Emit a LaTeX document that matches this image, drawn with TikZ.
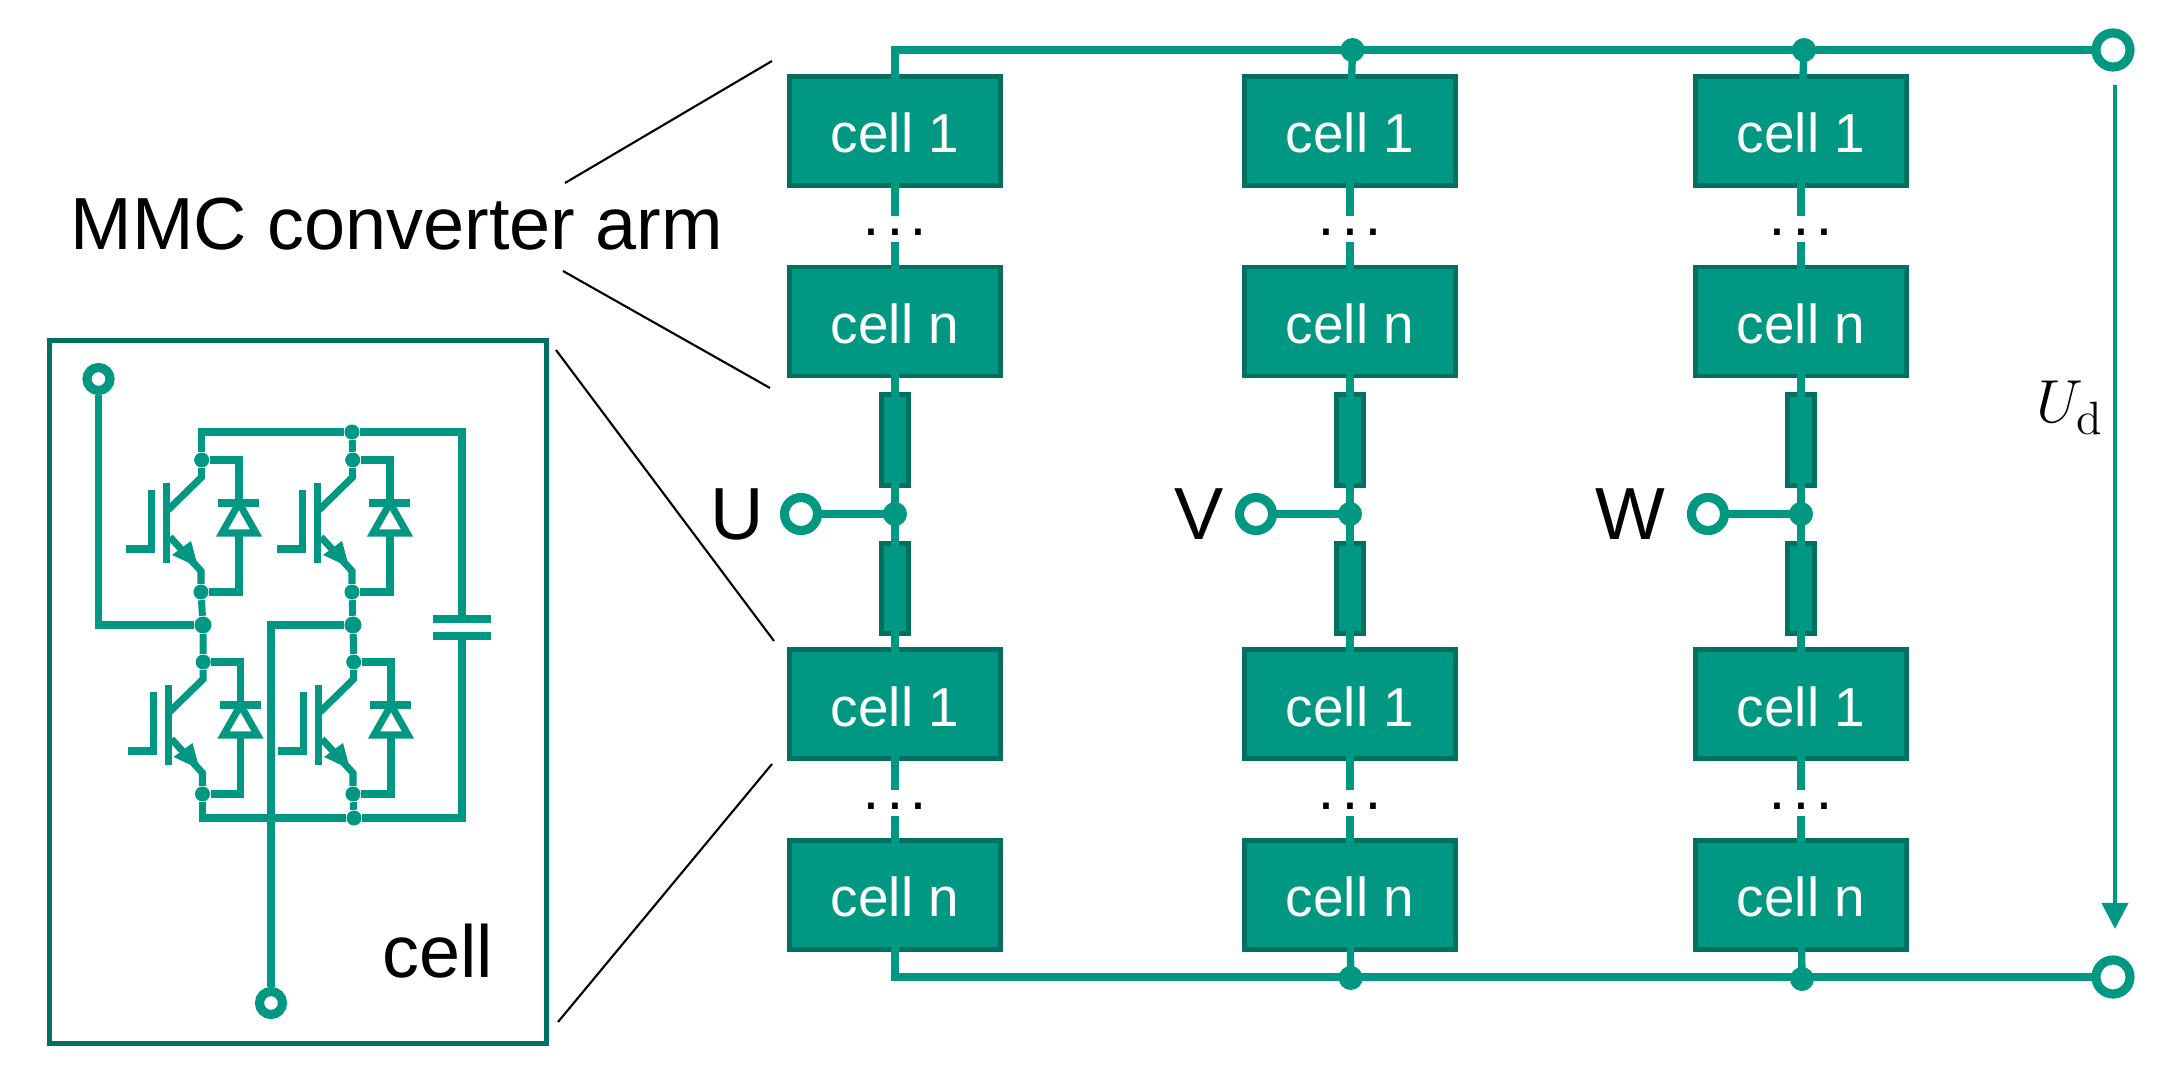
\documentclass[tikz,border=0pt]{standalone}
\usepackage{fontspec}
\setsansfont{Liberation Sans}
\usetikzlibrary{arrows.meta}
\definecolor{mmcgreen}{RGB}{0,152,130}
\definecolor{mmcdark}{RGB}{0,112,96}
\begin{document}
\begin{tikzpicture}[x=0.01cm, y=-0.01cm,
                    every node/.append style={font=\sffamily},
                    biglabel/.style={font=\sffamily\fontsize{21}{25}\selectfont},
                    cellbox/.style={rectangle, draw=mmcdark, fill=mmcgreen, line width=1.4pt, minimum width=2.1cm, minimum height=1.09cm, text height=0.44cm, text=white, font=\sffamily\fontsize{15.6}{19}\selectfont},
                    reactor/.style={rectangle, draw=mmcdark, fill=mmcgreen, line width=1.3pt, minimum width=0.265cm, minimum height=0.905cm},
                    armdots/.style={anchor=base, font=\sffamily\fontsize{17}{20}\selectfont},
                    bigdot/.style={circle, fill=mmcgreen, inner sep=0pt, minimum size=0.24cm},
                    smalldot/.style={circle, fill=mmcgreen, inner sep=0pt, minimum size=0.15cm},
                    terminal/.style={circle, draw=mmcgreen, fill=white, line width=2.6pt, inner sep=0pt, minimum size=0.34cm},
                    smallterminal/.style={terminal, minimum size=0.23cm},
                    wire/.style={draw=mmcgreen, line width=2.1pt, shorten >=-0.06cm, shorten <=-0.06cm},
                    cellwire/.style={draw=mmcgreen, line width=2pt},
                    pointer/.style={draw=black, line width=0.6pt}]
    \useasboundingbox (0,0) rectangle (2177,1070);

    % DC terminals and voltage arrow
    \node [terminal] (dc_top) at (2113,50) {};
    \node [terminal] (dc_bot) at (2113,977) {};
    \coordinate (ud_start) at (2115,85);
    \coordinate (ud_end) at (2115,929);
    \draw [draw=mmcgreen, line width=1.1pt, -{Triangle[length=7.4pt, width=7.4pt]}, mmcgreen] (ud_start) -- (ud_end);
    \node [anchor=base, font=\fontsize{19}{23}\selectfont] (ud_label) at (2070,423) {$U_{\mathrm{d}}$};

    % The three phase legs
    \foreach \leg/\xc/\xt/\xl/\phase in {a/895/801/737/U, b/1350/1256/1199/V, c/1801/1708/1630/W} {
        \node [cellbox] (\leg_p1) at (\xc,131) {cell 1};
        \node [cellbox] (\leg_pn) at (\xc,321.5) {cell n};
        \node [reactor] (\leg_rp) at (\xc,440) {};
        \node [bigdot] (\leg_ac) at (\xc,514) {};
        \node [reactor] (\leg_rn) at (\xc,588.5) {};
        \node [cellbox] (\leg_n1) at (\xc,704.3) {cell 1};
        \node [cellbox] (\leg_nn) at (\xc,895) {cell n};
        \node [terminal, minimum size=0.33cm] (\leg_t) at (\xt,514) {};
        \node [biglabel] (\leg_phase) at (\xl,514) {\phase};
        \node [armdots] (\leg_pdots) at (\xc,249) {·\kern1.1pt·\kern1.1pt·};
        \node [armdots] (\leg_ndots) at (\xc,823) {·\kern1.1pt·\kern1.1pt·};
        \coordinate (\leg_pa) at (\xc,210);
        \coordinate (\leg_pb) at (\xc,248);
        \coordinate (\leg_na) at (\xc,784);
        \coordinate (\leg_nb) at (\xc,822);
        % Wires along the leg
        \draw [wire] (\leg_p1) -- (\leg_pa);
        \draw [wire] (\leg_pb) -- (\leg_pn);
        \draw [wire] (\leg_pn) -- (\leg_rp);
        \draw [wire] (\leg_rp) -- (\leg_ac);
        \draw [wire] (\leg_ac) -- (\leg_rn);
        \draw [wire] (\leg_rn) -- (\leg_n1);
        \draw [wire] (\leg_n1) -- (\leg_na);
        \draw [wire] (\leg_nb) -- (\leg_nn);
        \draw [wire] (\leg_t) -- (\leg_ac);
    }

    % DC buses
    \node [bigdot] (bus_tb) at (1352.5,50) {};
    \node [bigdot] (bus_tc) at (1804,50) {};
    \node [bigdot] (bus_bb) at (1350.7,978) {};
    \node [bigdot] (bus_bc) at (1802,979) {};
    \draw [wire] (a_p1) |- (dc_top);
    \draw [wire] (a_nn) |- (dc_bot);
    \draw [wire] (bus_tb) -- (b_p1);
    \draw [wire] (bus_tc) -- (c_p1);
    \draw [wire] (bus_bb) -- (b_nn);
    \draw [wire] (bus_bc) -- (c_nn);

    % Labels and pointer lines
    \node [biglabel, anchor=base] (arm_label) at (397,250) {MMC converter arm};
    \coordinate (arm_a) at (565,183);
    \coordinate (arm_b) at (772,61);
    \coordinate (arm_c) at (563,271);
    \coordinate (arm_d) at (770,388);
    \coordinate (zoom_a) at (556,350);
    \coordinate (zoom_b) at (774,641);
    \coordinate (zoom_c) at (558,1022);
    \coordinate (zoom_d) at (772,764);
    \draw [pointer] (arm_a) -- (arm_b);
    \draw [pointer] (arm_c) -- (arm_d);
    \draw [pointer] (zoom_a) -- (zoom_b);
    \draw [pointer] (zoom_c) -- (zoom_d);

    % The cell inset
    \node [rectangle, draw=mmcdark, line width=1.4pt, minimum width=4.97cm, minimum height=7.02cm] (cell_frame) at (298,692) {};
    \node [biglabel, anchor=base] (cell_label) at (438,977) {cell};

    \foreach \sw/\dx/\dy in {ul/0/0, ur/151/0, ll/1.5/202, lr/152/202} {
        \begin{scope}[shift={(\dx,\dy)}]
            \node [smalldot] (\sw_top) at (201.7,460) {};
            \node [smalldot] (\sw_bot) at (201,592) {};
            \coordinate (\sw_col) at (201.7,477);
            \coordinate (\sw_base) at (168,510);
            \coordinate (\sw_bara) at (166.7,483);
            \coordinate (\sw_barb) at (166.7,563);
            \coordinate (\sw_ga) at (151.7,490);
            \coordinate (\sw_gb) at (151.7,549);
            \coordinate (\sw_gc) at (126,549);
            \coordinate (\sw_ea) at (170,537);
            \coordinate (\sw_eb) at (201,571);
            \coordinate (\sw_ka) at (218,503);
            \coordinate (\sw_kb) at (259,503);
            \coordinate (\sw_k) at (239,503);
            \coordinate (\sw_da) at (222,533);
            \coordinate (\sw_db) at (256,533);
            \coordinate (\sw_d) at (239,533);
            \draw [cellwire] (\sw_top) -- (\sw_col) -- (\sw_base);
            \draw [cellwire] (\sw_bara) -- (\sw_barb);
            \draw [cellwire] (\sw_ga) -- (\sw_gb) -- (\sw_gc);
            \draw [cellwire] (\sw_ea) -- (\sw_eb) -- (\sw_bot);
            \fill [mmcgreen] (172,555) -- (191,541) -- (198,567) -- cycle;
            \draw [cellwire] (\sw_top) -| (\sw_k);
            \draw [cellwire] (\sw_ka) -- (\sw_kb);
            \draw [cellwire] (\sw_k) -- (\sw_da) -- (\sw_db) -- cycle;
            \draw [cellwire] (\sw_bot) -| (\sw_d);
        \end{scope}
    }

    \node [smalldot, minimum size=0.17cm] (mid_l) at (203,625) {};
    \node [smalldot, minimum size=0.17cm] (mid_r) at (353,625) {};
    \node [smalldot] (cell_top) at (352,432) {};
    \node [smalldot] (cell_bot) at (354,818) {};
    \node [smallterminal] (cell_ta) at (98.5,379) {};
    \node [smallterminal] (cell_tb) at (271,1003) {};
    \coordinate (cap_a) at (462,619);
    \coordinate (cap_b) at (462,636);
    \coordinate (cap_al) at (433,619);
    \coordinate (cap_ar) at (491,619);
    \coordinate (cap_bl) at (433,636);
    \coordinate (cap_br) at (491,636);

    \draw [cellwire] (ul_bot) -- (mid_l);
    \draw [cellwire] (mid_l) -- (ll_top);
    \draw [cellwire] (ur_bot) -- (mid_r);
    \draw [cellwire] (mid_r) -- (lr_top);
    \draw [cellwire] (ul_top) |- (cell_top);
    \draw [cellwire] (cell_top) -- (ur_top);
    \draw [cellwire] (cell_top) -| (cap_a);
    \draw [cellwire] (cap_al) -- (cap_ar);
    \draw [cellwire] (cap_bl) -- (cap_br);
    \draw [cellwire] (cap_b) |- (cell_bot);
    \draw [cellwire] (ll_bot) |- (cell_bot);
    \draw [cellwire] (lr_bot) -- (cell_bot);
    \draw [cellwire] (cell_ta) |- (mid_l);
    \draw [cellwire] (mid_r) -| (cell_tb);
\end{tikzpicture}
\end{document}
